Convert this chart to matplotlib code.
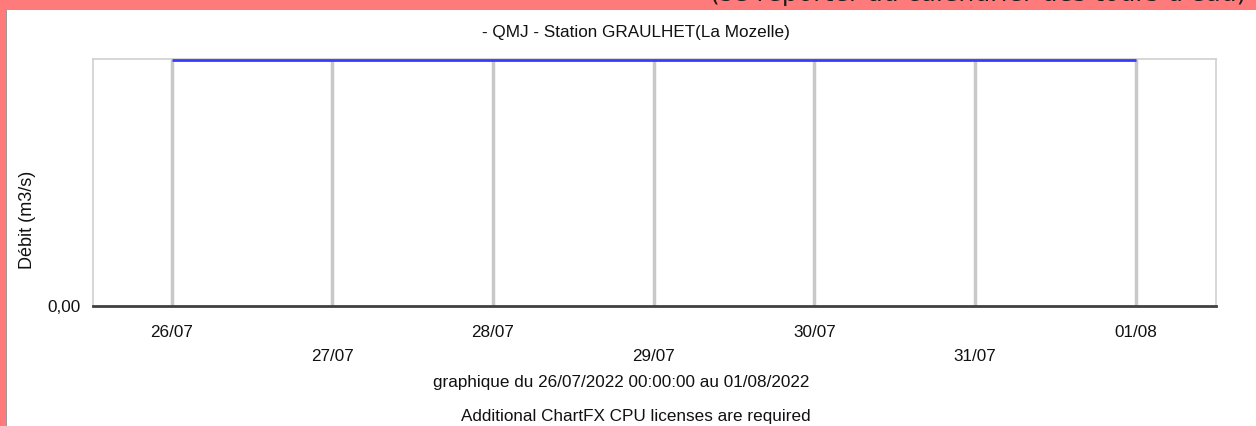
import matplotlib
matplotlib.use("Agg")
import matplotlib.pyplot as plt
from matplotlib.patches import Rectangle
from matplotlib.ticker import FixedLocator

# debit journalier (QMJ) - station GRAULHET
dates = ["26/07", "27/07", "28/07", "29/07", "30/07", "31/07", "01/08"]
debit = [1.0, 1.0, 1.0, 1.0, 1.0, 1.0, 1.0]
ytick_vals = [0.0]
ytick_labels = ["0,00"]

plt.rcParams['font.family'] = ['Liberation Sans', 'DejaVu Sans']

W, H = 1256, 426
fs = 12.3
fig = plt.figure(figsize=(W / 100, H / 100), dpi=100)
fig.patch.set_facecolor("white")

# bandeau rose en haut et a gauche
fig.patches.append(Rectangle((0, 1 - 10 / H), 1, 10 / H, transform=fig.transFigure,
                             facecolor="#ff7b7b", edgecolor="none", zorder=0))
fig.patches.append(Rectangle((0, 0), 6 / W, 1, transform=fig.transFigure,
                             facecolor="#ff7b7b", edgecolor="none", zorder=0))
fig.patches.append(Rectangle((6 / W, 0), 1.2 / W, 1 - 10 / H, transform=fig.transFigure,
                             facecolor="#9a9a9a", edgecolor="none", zorder=0))
fig.text(1246 / W, 1 + 6 / H, "(se reporter au calendrier des tours d'eau)",
         ha="right", va="center", fontsize=18.2, color="#1a1a1a",
         family=["DejaVu Sans"])

left, right, top, bottom = 93, 1216, 59, 306
ax = fig.add_axes([left / W, (H - bottom) / H, (right - left) / W, (bottom - top) / H])

x = list(range(len(dates)))
for xi in x:
    ax.axvline(xi, color="#c8c8c8", lw=2.5, zorder=1)
ax.plot(x, debit, color="#3a3aff", lw=2, zorder=3, solid_capstyle="butt")

ax.set_xlim(-0.49, 6.5)
ax.set_ylim(0, 1.004)

for s in ["left", "top", "right"]:
    ax.spines[s].set_color("#d0d0d0")
    ax.spines[s].set_linewidth(1.2)
ax.spines["bottom"].set_color("#404040")
ax.spines["bottom"].set_linewidth(2)

# etiquettes de date decalees sur deux lignes
ax.xaxis.set_major_locator(FixedLocator(x[0::2]))
ax.xaxis.set_minor_locator(FixedLocator(x[1::2]))
ax.set_xticklabels(dates[0::2])
ax.set_xticklabels(dates[1::2], minor=True)
ax.tick_params(axis="x", which="major", length=0, pad=13.5, labelsize=fs, labelcolor="#111111")
ax.tick_params(axis="x", which="minor", length=0, pad=31, labelsize=fs, labelcolor="#111111")

ax.set_yticks(ytick_vals)
ax.set_yticklabels(ytick_labels)
ax.tick_params(axis="y", length=0, pad=9, labelsize=fs, labelcolor="#111111")

ax.set_ylabel("Débit (m3/s)", fontsize=13, va="center", color="#111111")
ax.yaxis.set_label_coords((28 - left) / (right - left), (bottom - 220) / (bottom - top))

fig.text(636 / W, 1 - 32 / H, "- QMJ - Station GRAULHET(La Mozelle)",
         ha="center", va="center", fontsize=fs, color="#111111")
fig.text(621 / W, 1 - 383 / H, "graphique du 26/07/2022 00:00:00 au 01/08/2022",
         ha="center", va="center", fontsize=fs, color="#111111")
fig.text(636 / W, 1 - 416 / H, "Additional ChartFX CPU licenses are required",
         ha="center", va="center", fontsize=fs, color="#111111")

fig.savefig("out.png", dpi=100)
